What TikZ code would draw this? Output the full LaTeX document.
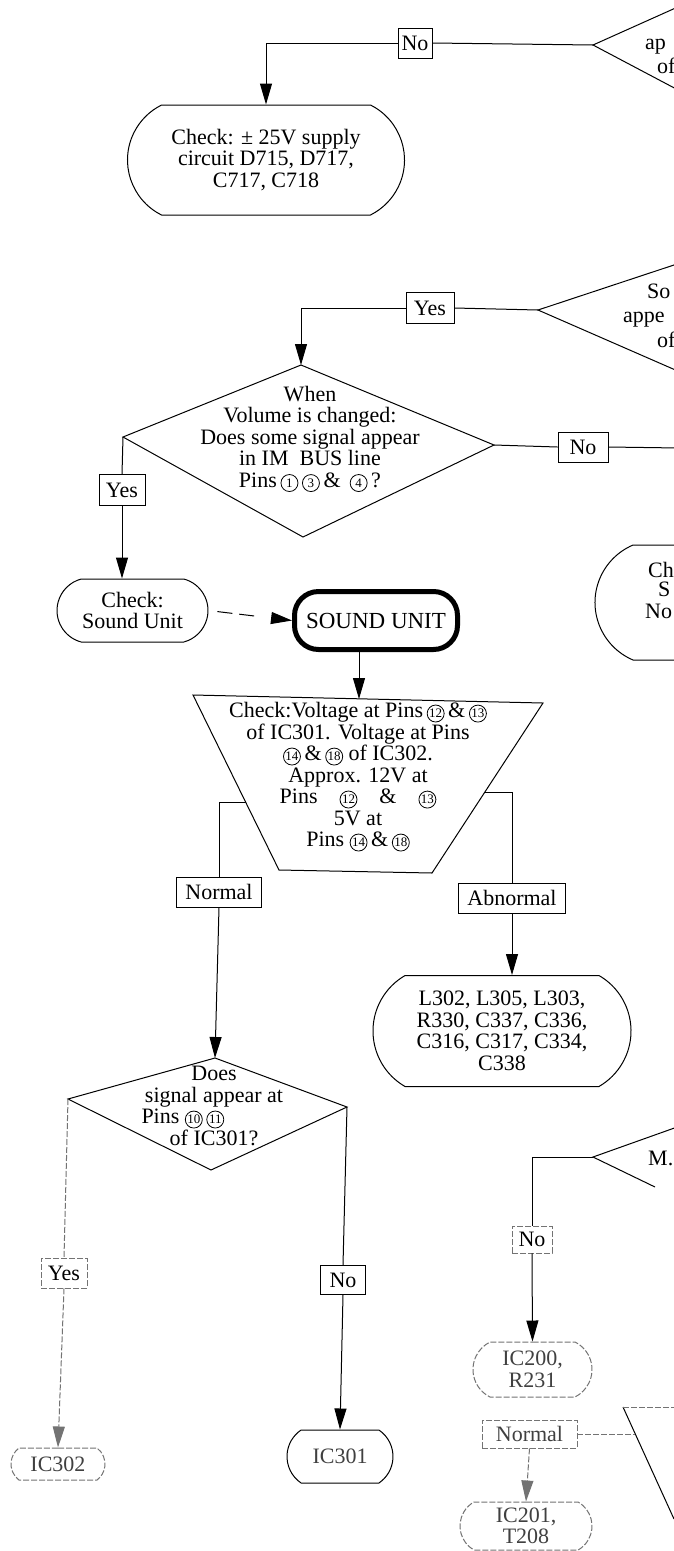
\documentclass[tikz,border=0pt]{standalone}
\usepackage{fontspec}
\setmainfont{Liberation Serif}
\usetikzlibrary{shapes.misc,arrows.meta,calc}

% circled pin number
\newcommand{\pin}[1]{\tikz[baseline=(pinc.base)]\node[draw,circle,line width=0.8pt,inner sep=0pt,minimum size=17pt,font=\fontsize{13}{13}\selectfont](pinc){#1};}

\begin{document}
\begin{tikzpicture}[x=1pt,y=-1pt,
  wire/.style={line width=1pt},
  arr/.style={-{Triangle[length=21pt,width=12pt]}},
  txt/.style={font=\fontsize{22}{21.5}\selectfont, align=center, inner sep=0pt},
  lab/.style={draw, line width=0.9pt, font=\fontsize{22}{22}\selectfont, inner sep=0pt, minimum height=30pt},
  capsule/.style={draw, line width=1pt, rounded rectangle, rounded rectangle arc length=#1,
                  inner sep=0pt, font=\fontsize{22}{21.5}\selectfont, align=center},
  capsule/.default=125,
  faint/.style={draw=black!55, dash pattern=on 6pt off 2pt},
  ftext/.style={text=black!75}
]
\fill[white] (0,0) rectangle (674,1551);
\useasboundingbox (0,0) rectangle (674,1551);
\clip (0,0) rectangle (674,1551);

% ---------- top: supply check ----------
\coordinate (t1) at (593,45);
\coordinate (t1a) at (680,6);
\coordinate (t1b) at (680,91);
\draw[wire] (t1a) -- (t1) -- (t1b);
\node[txt, anchor=base west] (t1x) at (645,49) {ap};
\node[txt, anchor=base west] (t1y) at (657,73) {of};
\node[lab, minimum width=34pt] (no1) at (415,43) {No};
\node[capsule=127, minimum width=277pt, minimum height=110pt] (b1) at (266,160)
  {Check: ± 25V supply\\circuit D715, D717,\\C717, C718};
\draw[wire] (t1) -- (no1.east);
\draw[wire,arr] (no1.west) -| (b1.north);

% ---------- IM bus check ----------
\coordinate (t2) at (538,310);
\coordinate (t2a) at (680,263);
\coordinate (t2b) at (680,372);
\draw[wire] (t2a) -- (t2) -- (t2b);
\node[txt, anchor=base west] (t2x) at (647,298) {So};
\node[txt, anchor=base west] (t2y) at (623,322) {appe};
\node[txt, anchor=base west] (t2z) at (657,347) {of};
\node[lab, minimum width=48pt, minimum height=31pt] (yes1) at (430,308) {Yes};
\draw[wire] (t2) -- (yes1.east);

\coordinate (d1t) at (301,365);
\coordinate (d1r) at (494,445);
\coordinate (d1b) at (303,537);
\coordinate (d1l) at (123,437);
\draw[wire] (d1t) -- (d1r) -- (d1b) -- (d1l) -- cycle;
\draw[wire,arr] (yes1.west) -| (d1t);
\node[txt] (d1x) at (310,439)
  {When\\Volume is changed:\\Does some signal appear\\in IM\ \ BUS line\\Pins\,\pin{1}\,\pin{3}\,\&\ \,\pin{4}\,?};

\node[lab, minimum width=50pt] (no2) at (583,447) {No};
\coordinate (e2) at (680,448);
\draw[wire] (d1r) -- (no2.west);
\draw[wire] (no2.east) -- (e2);

% partial box at the right
\node[capsule=134, minimum width=200pt, minimum height=115pt] (cr) at (695,602.5) {};
\node[txt, anchor=base west] (crx) at (648,577) {Ch};
\node[txt, anchor=base west] (cry) at (658,596) {S};
\node[txt, anchor=base west] (crz) at (645,618) {No};

\node[lab, minimum width=46pt, minimum height=31pt] (yesl) at (122,490) {Yes};
\draw[wire] (d1l) -- (yesl.north);
\node[capsule=150, minimum width=151pt, minimum height=63pt] (csu) at (132.5,610.5) {Check:\\Sound Unit};
\draw[wire,arr] (yesl.south) -- (yesl.south |- csu.north);

% ---------- sound unit ----------
\node[draw, line width=5pt, rounded corners=24pt, minimum width=163pt, minimum height=58pt,
      font=\fontsize{23}{23}\selectfont, inner sep=0pt] (su) at (376,620.5) {SOUND UNIT};
\draw[wire, arr, shorten <=9pt, dash pattern=on 15pt off 7pt on 15pt off 30pt] (csu.east) -- (su.west);

\coordinate (q1) at (193,695);
\coordinate (q2) at (543,703);
\coordinate (q3) at (432,873);
\coordinate (q4) at (279,870);
\draw[wire] (q1) -- (q2) -- (q3) -- (q4) -- cycle;
\coordinate (qt) at (359,699);
\draw[wire,arr] (qt |- su.south) -- (qt);
\node[txt] (qx) at (358,777)
  {Check:Voltage at Pins\,\pin{12}\,\&\,\pin{13}\\
   of IC301. Voltage at Pins\\
   \pin{14}\,\&\,\pin{18} of IC302.\\
   Approx. 12V at\\
   Pins\quad\pin{12}\quad\&\quad\pin{13}\\
   5V at\\
   Pins \pin{14}\,\&\,\pin{18}};

\coordinate (ql) at (245.6,802);
\coordinate (qr) at (485,792);
\node[lab, minimum width=85pt] (nm1) at (219,892) {Normal};
\node[lab, minimum width=107pt] (abn) at (512,898) {Abnormal};
\draw[wire] (ql) -| (nm1.north);
\draw[wire] (qr) -| (abn.north);

\node[capsule=120, minimum width=258pt, minimum height=111pt] (lb) at (502,1031)
  {L302, L305, L303,\\R330, C337, C336,\\C316, C317, C334,\\C338};
\draw[wire,arr] (abn.south) -- (abn.south |- lb.north);

% ---------- IC301 output check ----------
\coordinate (d2t) at (215,1058);
\coordinate (d2r) at (347,1107);
\coordinate (d2b) at (211,1170);
\coordinate (d2l) at (68,1099);
\draw[wire] (d2t) -- (d2r) -- (d2b) -- (d2l) -- cycle;
\draw[wire,arr] (nm1.south) -- (d2t);
\node[txt] (d2x) at (214,1106)
  {Does\\signal appear at\\\makebox[145pt][l]{Pins \pin{10}\,\pin{11}}\\of IC301?};

\node[lab, faint, minimum width=46pt] (yes2) at (64,1273) {Yes};
\draw[wire, faint] (d2l) -- (yes2.north);
\node[capsule=106, faint, ftext, minimum width=94pt, minimum height=32pt] (c302) at (58,1464) {IC302};
\draw[wire, faint, arr] (yes2.south) -- (c302.north);

\node[lab, minimum width=45pt, minimum height=29pt] (no3) at (343,1280) {No};
\draw[wire] (d2r) -- (no3.north);
\node[capsule=112, minimum width=106pt, minimum height=53pt, ftext] (c301) at (340,1456.5) {IC301};
\draw[wire,arr] (no3.south) -- (c301.north);

% ---------- bottom right ----------
\coordinate (t3) at (593,1157);
\coordinate (t3a) at (680,1126);
\coordinate (t3b) at (655,1187);
\draw[wire] (t3a) -- (t3) -- (t3b);
\node[txt, anchor=base west] (t3x) at (648,1165) {M.};
\node[lab, faint, minimum width=40pt, minimum height=27pt] (no4) at (532,1239.5) {No};
\draw[wire] (t3) -| (no4.north);
\node[capsule=127, faint, ftext, minimum width=119pt, minimum height=55pt] (c200) at (532.5,1369.5) {IC200,\\R231};
\draw[wire,arr] (no4.south) -- (c200.north);

\coordinate (s1) at (623,1407);
\coordinate (s2) at (674,1519);
\coordinate (s3) at (635,1434);
\coordinate (s4) at (680,1407);
\draw[wire] (s1) -- (s2);
\draw[faint] (s1) -- (s4);
\node[lab, faint, ftext, minimum width=95pt, minimum height=28pt] (nm2) at (529.5,1434) {Normal};
\draw[wire, faint] (nm2.east) -- (s3);
\node[capsule=120, faint, ftext, minimum width=132pt, minimum height=48pt] (c201) at (526,1526) {IC201,\\T208};
\draw[wire, faint, arr] (nm2.south) -- (c201.north);
\end{tikzpicture}
\end{document}
